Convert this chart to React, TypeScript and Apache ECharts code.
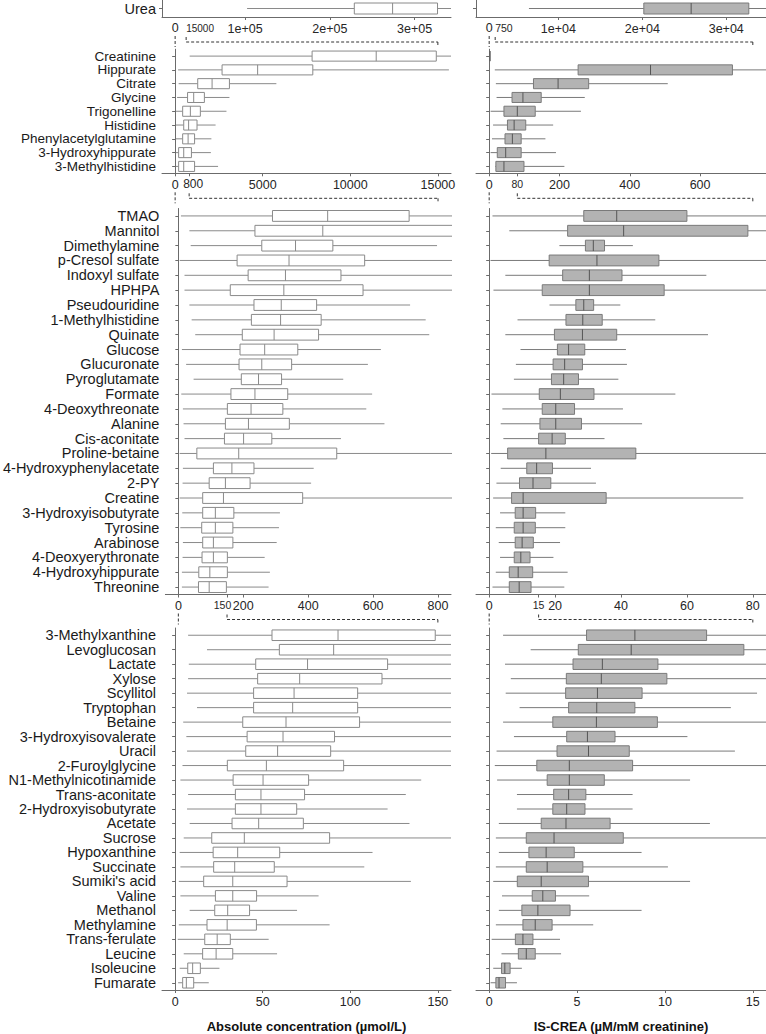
import React, { useEffect, useRef } from "react";
import * as echarts from "echarts";

// ---------- data: [whisker low, Q1, median, Q3, whisker high] ----------
const p1Names = ["Urea"];
const p1Abs = [[102400, 228900, 274100, 327100, 360000]];
const p1Rel = [[6490, 20180, 25820, 32690, 37000]];

const p2Names = ["Creatinine", "Hippurate", "Citrate", "Glycine", "Trigonelline", "Histidine", "Phenylacetylglutamine", "3-Hydroxyhippurate", "3-Methylhistidine"];
const p2Abs = [
  [830, 7820, 11480, 14910, 18000],
  [170, 2680, 4710, 7860, 15630],
  [200, 1290, 2110, 3100, 5780],
  [110, 710, 1060, 1670, 3100],
  [50, 430, 870, 1440, 2930],
  [50, 490, 770, 1250, 2310],
  [50, 430, 740, 1110, 2070],
  [50, 200, 490, 930, 2040],
  [50, 200, 490, 1110, 2450],
];
const p2Rel = [
  [2, 2, 2, 2, 2],
  [16, 253, 459, 692, 900],
  [19, 126, 196, 283, 508],
  [21, 65, 96, 148, 272],
  [4, 42, 80, 131, 261],
  [11, 52, 71, 104, 182],
  [8, 45, 66, 91, 160],
  [4, 23, 47, 91, 190],
  [17, 19, 42, 99, 214],
];

const p3Names = ["TMAO", "Mannitol", "Dimethylamine", "p-Cresol sulfate", "Indoxyl sulfate", "HPHPA", "Pseudouridine", "1-Methylhistidine", "Quinate", "Glucose", "Glucuronate", "Pyroglutamate", "Formate", "4-Deoxythreonate", "Alanine", "Cis-aconitate", "Proline-betaine", "4-Hydroxyphenylacetate", "2-PY", "Creatine", "3-Hydroxyisobutyrate", "Tyrosine", "Arabinose", "4-Deoxyerythronate", "4-Hydroxyhippurate", "Threonine"];
const p3Abs = [
  [8, 290, 460, 711, 900],
  [34, 236, 445, 950, 1100],
  [38, 257, 361, 476, 797],
  [4, 181, 341, 574, 900],
  [19, 215, 330, 501, 880],
  [19, 160, 325, 569, 900],
  [34, 233, 317, 426, 714],
  [41, 225, 315, 440, 762],
  [52, 197, 295, 432, 773],
  [11, 190, 266, 368, 624],
  [24, 187, 257, 349, 584],
  [47, 194, 247, 318, 508],
  [9, 162, 236, 337, 597],
  [14, 151, 224, 322, 579],
  [16, 145, 216, 342, 635],
  [19, 142, 201, 288, 501],
  [4, 57, 186, 488, 900],
  [14, 108, 165, 233, 417],
  [13, 95, 145, 221, 409],
  [4, 75, 139, 383, 900],
  [12, 75, 114, 171, 313],
  [6, 72, 114, 168, 310],
  [14, 75, 108, 168, 303],
  [13, 73, 108, 151, 266],
  [11, 63, 97, 151, 282],
  [11, 62, 95, 148, 278],
];
const p3Rel = [
  [1.0, 28.7, 38.7, 60.0, 90],
  [6.1, 23.8, 40.8, 78.5, 95],
  [21.3, 29.2, 31.6, 35.0, 43.6],
  [0.4, 18.2, 32.7, 51.5, 90],
  [4.9, 22.3, 30.4, 40.3, 65.9],
  [1.3, 16.1, 30.4, 53.1, 90],
  [18.3, 26.3, 28.7, 31.7, 39.8],
  [8.6, 23.3, 28.4, 34.3, 50.4],
  [4.9, 19.8, 28.3, 38.7, 66.4],
  [9.5, 20.7, 24.1, 29.0, 41.5],
  [8.1, 19.4, 22.9, 28.3, 41.8],
  [7.5, 18.9, 22.6, 27.1, 39.2],
  [0.7, 15.2, 21.6, 31.8, 56.5],
  [4.0, 16.1, 20.2, 25.9, 40.6],
  [3.5, 15.4, 20.2, 28.0, 46.4],
  [4.3, 15.0, 19.1, 23.1, 35.0],
  [0.6, 5.6, 17.2, 44.5, 95],
  [3.5, 11.4, 14.4, 19.2, 30.9],
  [2.2, 9.2, 13.3, 18.7, 32.4],
  [1.2, 6.8, 10.3, 35.5, 77.1],
  [3.3, 7.9, 10.3, 14.1, 23.1],
  [2.0, 7.6, 10.3, 14.0, 23.1],
  [2.9, 7.9, 10.0, 13.4, 21.5],
  [3.3, 7.6, 9.6, 12.4, 19.5],
  [2.0, 6.1, 8.8, 13.2, 23.8],
  [1.0, 6.1, 9.1, 12.7, 22.8],
];

const p4Names = ["3-Methylxanthine", "Levoglucosan", "Lactate", "Xylose", "Scyllitol", "Tryptophan", "Betaine", "3-Hydroxyisovalerate", "Uracil", "2-Furoylglycine", "N1-Methylnicotinamide", "Trans-aconitate", "2-Hydroxyisobutyrate", "Acetate", "Sucrose", "Hypoxanthine", "Succinate", "Sumiki's acid", "Valine", "Methanol", "Methylamine", "Trans-ferulate", "Leucine", "Isoleucine", "Fumarate"];
const p4Abs = [
  [7.4, 55.3, 93.0, 148.5, 165],
  [18.2, 59.5, 90.5, 175, 200],
  [7.8, 46.0, 75.6, 121.3, 180],
  [7.4, 47.1, 71.1, 118.1, 175],
  [6.8, 44.8, 67.9, 104.2, 170],
  [12.5, 44.8, 67.1, 104.2, 165],
  [4.6, 38.6, 63.3, 105.3, 175],
  [6.4, 41.1, 61.6, 91.0, 160],
  [6.8, 40.3, 58.5, 88.8, 160],
  [4.2, 29.8, 52.1, 96.2, 175],
  [3.0, 33.1, 50.2, 76.2, 140.5],
  [7.4, 34.4, 49.0, 73.9, 131.7],
  [6.8, 34.4, 49.0, 69.4, 121.3],
  [8.3, 32.5, 47.7, 73.2, 133.8],
  [4.9, 20.9, 39.5, 88.2, 170],
  [2.6, 21.7, 35.7, 59.7, 112.7],
  [3.0, 22.0, 34.0, 56.6, 108.0],
  [2.1, 16.3, 32.9, 63.9, 134.6],
  [3.0, 23.0, 32.9, 46.5, 81.9],
  [8.3, 22.6, 30.0, 42.5, 69.6],
  [2.1, 18.2, 29.7, 46.4, 88.2],
  [1.5, 16.9, 24.0, 31.5, 53.4],
  [4.9, 15.7, 23.4, 32.9, 58.2],
  [2.6, 7.2, 10.0, 14.4, 25.3],
  [1.7, 4.3, 6.4, 10.6, 19.2],
];
const p4Rel = [
  [0.79, 5.54, 8.29, 12.37, 17],
  [2.36, 5.07, 8.08, 14.49, 17],
  [0.9, 4.77, 6.44, 9.6, 17],
  [1.23, 4.39, 6.38, 10.11, 17],
  [0.94, 4.35, 6.16, 8.7, 15.24],
  [1.73, 4.52, 6.12, 8.29, 13.75],
  [0.79, 3.62, 6.1, 9.57, 17],
  [1.41, 4.41, 5.59, 7.16, 11.28],
  [0.42, 3.86, 5.65, 7.97, 13.98],
  [0.32, 2.71, 4.56, 8.16, 17],
  [0.45, 3.3, 4.56, 6.55, 11.43],
  [1.58, 3.67, 4.52, 5.5, 8.16],
  [1.58, 3.62, 4.41, 5.45, 8.16],
  [0.55, 2.96, 4.37, 6.88, 12.56],
  [0.38, 2.11, 3.69, 7.63, 17],
  [0.55, 2.26, 3.24, 4.84, 8.67],
  [0.38, 2.11, 3.3, 5.33, 10.17],
  [0.23, 1.6, 2.96, 5.65, 11.43],
  [0.73, 2.45, 3.05, 3.77, 5.69],
  [0.55, 1.86, 2.77, 4.6, 8.67],
  [0.38, 1.92, 2.62, 3.58, 5.92],
  [0.14, 1.49, 1.92, 2.49, 4.03],
  [0.7, 1.66, 2.11, 2.62, 4.09],
  [0.23, 0.7, 0.89, 1.19, 1.86],
  [0.08, 0.38, 0.56, 0.93, 1.58],
];

// ---------- axes: ranges and tick labels ----------
const absRanges = [[2000, 343000], [-750, 15750], [-40, 840], [-7.5, 157.5]];
const relRanges = [[180, 34740], [-37.5, 787.5], [-4, 84], [-0.75, 15.75]];
const absTicks = [[100000, 200000, 300000], [0, 800, 5000, 10000, 15000], [0, 150, 200, 400, 600, 800], [0, 50, 100, 150]];
const relTicks = [[10000, 20000, 30000], [0, 80, 200, 400, 600], [0, 15, 20, 40, 60, 80], [0, 5, 10, 15]];
// zoom-window limits shown by the dashed brackets
const absZoomLimits = [15000, 800, 150];
const relZoomLimits = [750, 80, 15];

const absTitle = "Absolute concentration (µmol/L)";
const relTitle = "IS-CREA (µM/mM creatinine)";

// ---------- layout & styles ----------
const FONT = '"Liberation Sans", Arial, Helvetica, sans-serif';
const COL_X = [162, 476];
const COL_W = [289, 292];
const PANEL_Y = [[0, 17], [49.2, 173.3], [208.5, 594.5], [628, 997]];
const CAT_FONT = [14.5, 13.5, 14.5, 14.5];
const AXIS_COLOR = "#6b6b6b";
const TICK_TEXT = "#262626";
// special tick-label styles (rich keys) per panel
const absTickStyle: Record<number, string>[] = [{}, { 800: "r" }, { 150: "sl" }, {}];
const relTickStyle: Record<number, string>[] = [{}, { 80: "s" }, { 15: "s" }, {}];

function boxRenderer(fill: string, stroke: string, median: string) {
  return function (params: any, api: any) {
    const cat = api.value(0);
    const xs = [1, 2, 3, 4, 5].map((i) => api.coord([api.value(i), cat]));
    const y = xs[0][1];
    const band = api.size([0, 1])[1];
    const h = Math.min(band * 0.73, 11);
    const [lo, q1, md, q3, hi] = xs.map((p: number[]) => p[0]);
    const ls = { stroke, lineWidth: 1, fill: null };
    return {
      type: "group",
      children: [
        { type: "line", shape: { x1: lo, y1: y, x2: q1, y2: y }, style: ls },
        { type: "line", shape: { x1: q3, y1: y, x2: hi, y2: y }, style: ls },
        { type: "rect", shape: { x: q1, y: y - h / 2, width: Math.max(q3 - q1, 0), height: h }, style: { fill, stroke, lineWidth: 1 } },
        { type: "line", shape: { x1: md, y1: y - h / 2, x2: md, y2: y + h / 2 }, style: { stroke: median, lineWidth: 1 } },
      ],
    };
  };
}

function buildOption() {
  const panels = [
    { names: p1Names, abs: p1Abs, rel: p1Rel },
    { names: p2Names, abs: p2Abs, rel: p2Rel },
    { names: p3Names, abs: p3Abs, rel: p3Rel },
    { names: p4Names, abs: p4Abs, rel: p4Rel },
  ];
  const grid: any[] = [];
  const xAxis: any[] = [];
  const yAxis: any[] = [];
  const series: any[] = [];

  panels.forEach((p, pi) => {
    [0, 1].forEach((c) => {
      const gi = pi * 2 + c;
      const [top, bottom] = PANEL_Y[pi];
      grid.push({ left: COL_X[c], top, width: COL_W[c], height: bottom - top, containLabel: false });
      const range = c === 0 ? absRanges[pi] : relRanges[pi];
      const ticks = c === 0 ? absTicks[pi] : relTicks[pi];
      const special = c === 0 ? absTickStyle[pi] : relTickStyle[pi];
      const fmt = (v: number) => {
        let s: string;
        if (pi === 0) s = c === 0 ? `${Math.round(v / 1e5)}e+05` : `${Math.round(v / 1e4)}e+04`;
        else s = String(v);
        const k = special[v];
        return k ? `{${k}|${s}}` : s;
      };
      const last = pi === 3;
      xAxis.push({
        type: "value",
        gridIndex: gi,
        min: range[0],
        max: range[1],
        axisLine: { show: true, lineStyle: { color: AXIS_COLOR, width: 1 } },
        axisTick: { show: true, length: 3, customValues: ticks, lineStyle: { color: AXIS_COLOR } },
        axisLabel: {
          customValues: ticks,
          formatter: fmt,
          fontSize: 12.5,
          color: TICK_TEXT,
          fontFamily: FONT,
          margin: 5,
          rich: {
            s: { fontSize: 10.5, color: TICK_TEXT, fontFamily: FONT },
            sl: { fontSize: 10.5, color: TICK_TEXT, fontFamily: FONT, padding: [0, 9, 0, 0] },
            r: { fontSize: 12, color: TICK_TEXT, fontFamily: FONT, padding: [0, 0, 0, 8] },
          },
        },
        splitLine: { show: false },
        name: last ? (c === 0 ? absTitle : relTitle) : "",
        nameLocation: "middle",
        nameGap: 30,
        nameTextStyle: { fontSize: 13, fontWeight: "bold", color: "#111", fontFamily: FONT },
      });
      yAxis.push({
        type: "category",
        gridIndex: gi,
        data: p.names,
        inverse: true,
        axisLine: { show: true, lineStyle: { color: AXIS_COLOR, width: 1 } },
        axisTick: { show: true, length: 3, alignWithLabel: true, interval: 0, lineStyle: { color: AXIS_COLOR } },
        axisLabel: {
          show: c === 0,
          interval: 0,
          fontSize: CAT_FONT[pi],
          lineHeight: 13,
          color: "#1a1a1a",
          fontFamily: FONT,
          margin: 6,
        },
        splitLine: { show: false },
      });
      const vals = c === 0 ? p.abs : p.rel;
      series.push({
        type: "custom",
        xAxisIndex: gi,
        yAxisIndex: gi,
        clip: true,
        silent: true,
        renderItem: c === 0 ? boxRenderer("#ffffff", "#8a8a8a", "#8a8a8a") : boxRenderer("#b3b3b3", "#7a7a7a", "#555555"),
        encode: { x: [1, 2, 3, 4, 5], y: 0 },
        data: vals.map((d, i) => [i, ...d]),
      });
    });
  });

  return {
    animation: false,
    backgroundColor: "#ffffff",
    textStyle: { fontFamily: FONT },
    grid,
    xAxis,
    yAxis,
    series,
  };
}

function buildGraphic(chart: any) {
  const g: any[] = [];
  const px = (ai: number, v: number) => chart.convertToPixel({ xAxisIndex: ai }, v) as number;
  const dash = { stroke: "#333333", lineWidth: 1, lineDash: [3, 2], fill: null };
  const line = (x1: number, y1: number, x2: number, y2: number) =>
    g.push({ type: "line", silent: true, shape: { x1, y1, x2, y2 }, style: dash });

  [0, 1, 2].forEach((t) => {
    const axisY = PANEL_Y[t][1];
    const nextTop = PANEL_Y[t + 1][0];
    [0, 1].forEach((c) => {
      const limit = c === 0 ? absZoomLimits[t] : relZoomLimits[t];
      let x0: number, xs: number, xe: number;
      if (t === 0) {
        x0 = px(2 + c, 0);
        xs = x0 + (c === 0 ? 11 : 6);
        xe = px(2 + c, limit);
        const ty = axisY + 11;
        g.push({ type: "text", silent: true, x: x0, y: ty, style: { text: "0", fontSize: 12.5, fontFamily: FONT, fill: TICK_TEXT, align: "center", verticalAlign: "middle" } });
        g.push({ type: "text", silent: true, x: xs, y: ty, style: { text: String(limit), fontSize: c === 0 ? 10 : 10.5, fontFamily: FONT, fill: TICK_TEXT, align: "left", verticalAlign: "middle" } });
      } else {
        x0 = px(t * 2 + c, 0);
        xs = px(t * 2 + c, limit);
        xe = px((t + 1) * 2 + c, limit);
      }
      const yh = axisY + 25;
      line(x0, axisY + 19, x0, Math.min(axisY + 30, nextTop - 2));
      line(xs, axisY + 20, xs, yh);
      line(xs, yh, xe, yh);
      line(xe, yh, xe, Math.min(axisY + 30, nextTop - 2));
    });
  });
  return g;
}

export default function App() {
  const ref = useRef<HTMLDivElement>(null);
  useEffect(() => {
    if (!ref.current) return;
    const chart = echarts.init(ref.current, undefined, { renderer: "svg" });
    chart.setOption(buildOption() as any);
    chart.setOption({ graphic: buildGraphic(chart) } as any);
    return () => chart.dispose();
  }, []);
  return (
    <div
      ref={ref}
      style={{ position: "absolute", left: 0, top: 0, width: 766, height: 1034, background: "#fff" }}
    />
  );
}
